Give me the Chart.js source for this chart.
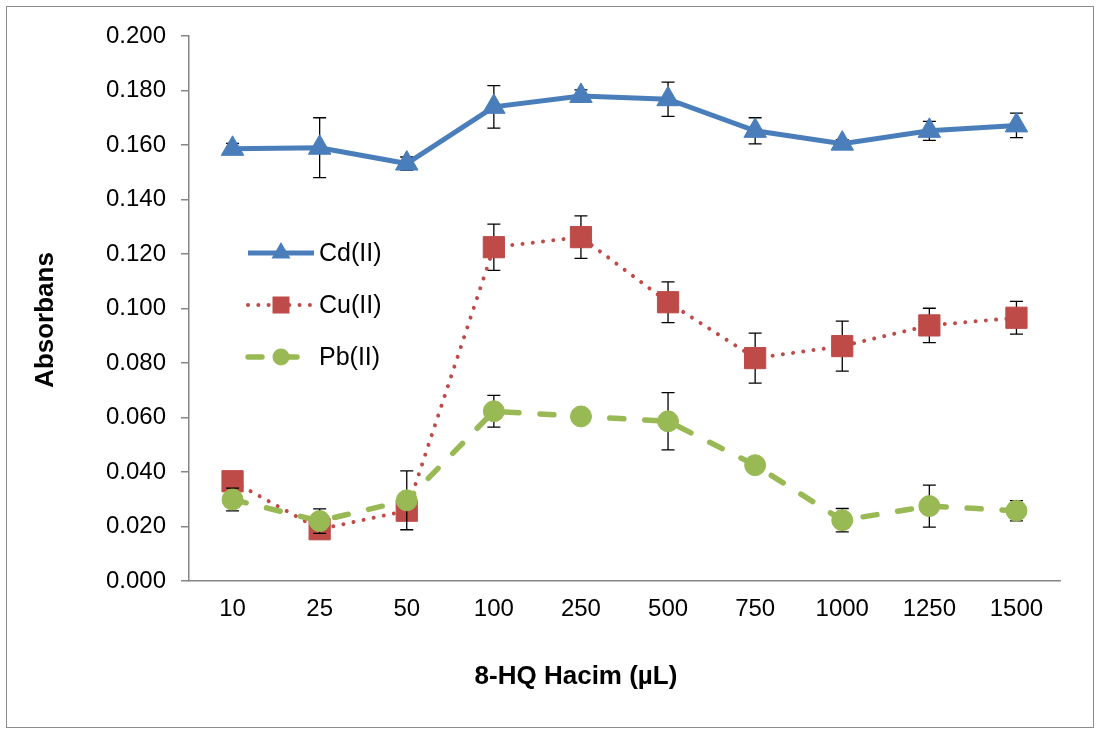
<!DOCTYPE html>
<html>
<head>
<meta charset="utf-8">
<script src="https://cdn.jsdelivr.net/npm/chart.js@4.4.0/dist/chart.umd.min.js"></script>
<style>
  html, body { margin: 0; padding: 0; background: #fff; }
  #kutu { width: 1100px; height: 733px; }
</style>
</head>
<body>
<div id="kutu"><canvas id="grafik" width="1100" height="733"></canvas></div>
<script>
// Veriler
const hacimler = ["10", "25", "50", "100", "250", "500", "750", "1000", "1250", "1500"]

const cdDegerleri = [0.1586, 0.1590, 0.1532, 0.1740, 0.1780, 0.1768, 0.1652, 0.1605, 0.1652, 0.1672]
const cdHata = [0.0020, 0.0110, 0.0024, 0.0078, 0.0022, 0.0063, 0.0048, 0.0015, 0.0035, 0.0045]

const cuDegerleri = [0.0366, 0.0190, 0.0258, 0.1225, 0.1262, 0.1023, 0.0818, 0.0862, 0.0938, 0.0966]
const cuHata = [0.0020, 0.0020, 0.0020, 0.0085, 0.0078, 0.0075, 0.0092, 0.0092, 0.0063, 0.0060]

const pbDegerleri = [0.0299, 0.0220, 0.0296, 0.0623, 0.0604, 0.0586, 0.0425, 0.0223, 0.0275, 0.0258]
const pbHata = [0.0042, 0.0045, 0.0108, 0.0058, 0.0020, 0.0105, 0.0020, 0.0043, 0.0077, 0.0037]

const seriAdlari = ["Cd(II)", "Cu(II)", "Pb(II)"]
const yMin = 0
const yMax = 0.2
const yAdim = 0.02

const FONT = "'Liberation Sans', Arial, sans-serif"
const MAVI = "#4a7ebb"
const KIRMIZI = "#be4b48"
const YESIL = "#98b954"
const EKSEN = "#868686"

// Hata çubukları: her seri kendi çizgisinden önce çizilir
const hataCubuklari = {
  id: "hataCubuklari",
  beforeDatasetDraw(chart, args) {
    const ds = chart.data.datasets[args.index]
    if (!ds.hatalar) return
    const { ctx } = chart
    const x = chart.scales.x
    const y = chart.scales.y
    ctx.save()
    ctx.strokeStyle = "#000"
    ctx.lineWidth = 1.3
    ds.data.forEach((v, i) => {
      const px = x.getPixelForValue(i)
      const ust = y.getPixelForValue(v + ds.hatalar[i])
      const alt = y.getPixelForValue(v - ds.hatalar[i])
      ctx.beginPath()
      ctx.moveTo(px, ust)
      ctx.lineTo(px, alt)
      ctx.moveTo(px - 6.5, ust)
      ctx.lineTo(px + 6.5, ust)
      ctx.moveTo(px - 6.5, alt)
      ctx.lineTo(px + 6.5, alt)
      ctx.stroke()
    })
    ctx.restore()
  },
}

const isaretCiz = (ctx, tur, x, y, renk) => {
  ctx.fillStyle = renk
  ctx.beginPath()
  if (tur === "triangle") {
    const r = 11
    ctx.moveTo(x, y - r)
    ctx.lineTo(x + r * 0.866, y + r / 2)
    ctx.lineTo(x - r * 0.866, y + r / 2)
    ctx.closePath()
  } else if (tur === "rect") {
    ctx.rect(x - 8.5, y - 8.5, 17, 17)
  } else {
    ctx.arc(x, y, 8.5, 0, Math.PI * 2)
  }
  ctx.fill()
}

// Çerçeve, eksen başlıkları ve lejant
const ekYazilar = {
  id: "ekYazilar",
  afterDraw(chart) {
    const { ctx } = chart
    ctx.save()

    ctx.strokeStyle = "#8c8c8c"
    ctx.lineWidth = 1
    ctx.strokeRect(6.5, 6.5, 1087, 721)

    ctx.fillStyle = "#000"
    ctx.font = "bold 26px " + FONT
    ctx.textAlign = "center"
    ctx.textBaseline = "middle"
    ctx.fillText("8-HQ Hacim (µL)", 576, 677)

    ctx.save()
    ctx.translate(46, 320)
    ctx.rotate(-Math.PI / 2)
    ctx.fillText("Absorbans", 0, 0)
    ctx.restore()

    // Lejant
    const satirlar = [
      { y: 253, renk: MAVI, tur: "triangle", genislik: 5, dash: [], cap: "butt" },
      { y: 305, renk: KIRMIZI, tur: "rect", genislik: 4, dash: [0.01, 10.3], cap: "round" },
      { y: 357, renk: YESIL, tur: "circle", genislik: 5.5, dash: [14, 21], cap: "round" },
    ]
    satirlar.forEach((s, i) => {
      ctx.strokeStyle = s.renk
      ctx.lineWidth = s.genislik
      ctx.lineCap = s.cap
      ctx.setLineDash(s.dash)
      ctx.beginPath()
      ctx.moveTo(248, s.y)
      ctx.lineTo(314, s.y)
      ctx.stroke()
      ctx.setLineDash([])
      isaretCiz(ctx, s.tur, 281, s.y, s.renk)

      ctx.fillStyle = "#000"
      ctx.font = "25px " + FONT
      ctx.textAlign = "left"
      ctx.textBaseline = "middle"
      ctx.fillText(seriAdlari[i], 319, s.y + 1)
    })

    ctx.restore()
  },
}

const ctx = document.getElementById("grafik").getContext("2d")
new Chart(ctx, {
  type: "line",
  data: {
    labels: hacimler,
    datasets: [
      {
        label: seriAdlari[0],
        data: cdDegerleri,
        hatalar: cdHata,
        borderColor: MAVI,
        backgroundColor: MAVI,
        borderWidth: 5,
        pointStyle: "triangle",
        pointRadius: 13,
        pointBackgroundColor: MAVI,
        pointBorderColor: MAVI,
        pointBorderWidth: 1,
        tension: 0,
        order: 3,
      },
      {
        label: seriAdlari[1],
        data: cuDegerleri,
        hatalar: cuHata,
        borderColor: KIRMIZI,
        backgroundColor: KIRMIZI,
        borderWidth: 4,
        borderDash: [0.01, 10.3],
        borderCapStyle: "round",
        pointStyle: "rect",
        pointRadius: 15,
        pointBackgroundColor: KIRMIZI,
        pointBorderColor: KIRMIZI,
        pointBorderWidth: 1,
        tension: 0,
        order: 2,
      },
      {
        label: seriAdlari[2],
        data: pbDegerleri,
        hatalar: pbHata,
        borderColor: YESIL,
        backgroundColor: YESIL,
        borderWidth: 5.5,
        borderDash: [14, 21],
        borderCapStyle: "round",
        pointStyle: "circle",
        pointRadius: 10.5,
        pointBackgroundColor: YESIL,
        pointBorderColor: YESIL,
        pointBorderWidth: 1,
        tension: 0,
        order: 1,
      },
    ],
  },
  options: {
    responsive: false,
    animation: false,
    devicePixelRatio: 1,
    layout: { padding: { top: 36, right: 40, left: 0, bottom: 0 } },
    plugins: {
      legend: { display: false },
      tooltip: { enabled: false },
    },
    events: [],
    scales: {
      x: {
        offset: true,
        grid: { drawOnChartArea: false, drawTicks: false },
        border: { color: EKSEN, width: 1.5 },
        ticks: {
          color: "#000",
          padding: 14,
          autoSkip: false,
          maxRotation: 0,
          font: { family: FONT, size: 24 },
        },
        afterFit: (s) => {
          s.height = 152
        },
      },
      y: {
        min: yMin,
        max: yMax,
        grid: { drawOnChartArea: false, drawTicks: true, tickLength: 8, color: EKSEN, lineWidth: 1.5 },
        border: { color: EKSEN, width: 1.5 },
        ticks: {
          stepSize: yAdim,
          color: "#000",
          padding: 15,
          font: { family: FONT, size: 24 },
          callback: (v) => Number(v).toFixed(3),
        },
        afterFit: (s) => {
          s.width = 189
        },
      },
    },
  },
  plugins: [hataCubuklari, ekYazilar],
})
</script>
</body>
</html>
